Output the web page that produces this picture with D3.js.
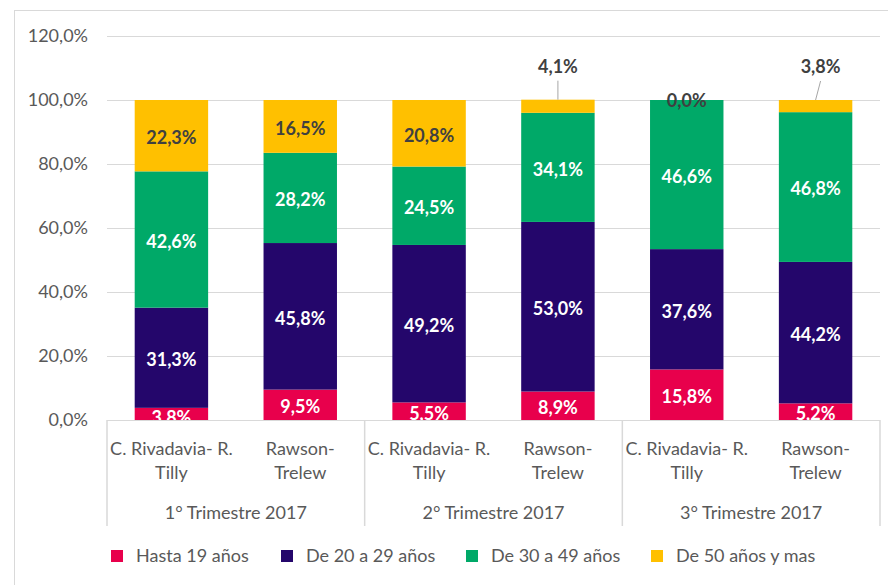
<!DOCTYPE html>
<meta charset="utf-8">
<head>
    <style>
        body { margin: 0; background: white; font-family: Lato, "Open Sans", sans-serif; }
        .grid line { stroke: #d9d9d9; }
        .grid path { stroke-width: 0; }
        .yaxis text { fill: #595959; font-size: 18px; font-family: Lato, sans-serif; }
        .cat text { fill: #595959; font-size: 18px; }
        .legend text { fill: #595959; font-size: 18px; }
    </style>
</head>
<body>
    <script src="https://cdnjs.cloudflare.com/ajax/libs/d3/7.8.5/d3.min.js"></script>
    <div id="chart"></div>
    <script>
        // data
        var groups = ["1° Trimestre 2017", "2° Trimestre 2017", "3° Trimestre 2017"];
        var places = [["C. Rivadavia- R.", "Tilly"], ["Rawson-", "Trelew"]];
        var seriesNames = ["Hasta 19 años", "De 20 a 29 años", "De 30 a 49 años", "De 50 años y mas"];
        var colors = ["#e8004c", "#24066b", "#00a968", "#ffc000"];
        var hasta19 = [3.8, 9.5, 5.5, 8.9, 15.8, 5.2];
        var de20a29 = [31.3, 45.8, 49.2, 53.0, 37.6, 44.2];
        var de30a49 = [42.6, 28.2, 24.5, 34.1, 46.6, 46.8];
        var de50 = [22.3, 16.5, 20.8, 4.1, 0.0, 3.8];
        var yTicks = [0, 20, 40, 60, 80, 100, 120];

        var width = 888, height = 585;
        var plotLeft = 107, plotRight = 880, plotTop = 36, plotBottom = 420;

        var svg = d3.select("#chart").append("svg")
            .attr("width", width)
            .attr("height", height);

        // outer border
        svg.append("rect")
            .attr("x", 14.5).attr("y", 10.5)
            .attr("width", 880).attr("height", 600)
            .attr("fill", "none").attr("stroke", "#d9d9d9");

        var keys = d3.range(6);
        var x = d3.scaleBand().domain(keys).range([plotLeft, plotRight])
            .paddingInner(0.43).paddingOuter(0.215);
        var y = d3.scaleLinear().domain([0, 120]).range([plotBottom, plotTop]);

        var loc = d3.formatLocale({ decimal: ",", thousands: ".", grouping: [3], currency: ["", ""] });
        var fmt = loc.format(".1f");

        // gridlines
        svg.append("g")
            .attr("class", "grid")
            .attr("transform", "translate(" + plotLeft + ",0)")
            .call(d3.axisLeft(y).tickValues(yTicks.slice(1)).tickSize(-(plotRight - plotLeft)).tickFormat(""));

        // y labels
        var yAxis = svg.append("g")
            .attr("class", "yaxis")
            .attr("transform", "translate(" + (plotLeft - 19) + ",0)")
            .call(d3.axisLeft(y).tickValues(yTicks).tickSize(0).tickPadding(0)
                .tickFormat(function (d) { return fmt(d) + "%"; }));
        yAxis.select(".domain").remove();

        // stacked data
        var rows = keys.map(function (i) {
            return { i: i, s0: hasta19[i], s1: de20a29[i], s2: de30a49[i], s3: de50[i] };
        });
        var stack = d3.stack().keys(["s0", "s1", "s2", "s3"])(rows);

        svg.append("defs").append("clipPath").attr("id", "plotclip")
            .append("rect").attr("x", 0).attr("y", 0).attr("width", width).attr("height", plotBottom);

        var layers = svg.selectAll("g.layer")
            .data(stack)
            .enter().append("g")
            .attr("class", "layer")
            .attr("fill", function (d, k) { return colors[k]; });

        layers.selectAll("rect")
            .data(function (d) { return d; })
            .enter().append("rect")
            .attr("x", function (d) { return x(d.data.i); })
            .attr("y", function (d) { return y(d[1]); })
            .attr("width", x.bandwidth())
            .attr("height", function (d) { return y(d[0]) - y(d[1]); });

        // data labels
        var labels = svg.append("g").attr("clip-path", "url(#plotclip)")
            .style("font-weight", "bold").style("font-size", "18px");
        stack.forEach(function (layer, k) {
            layer.forEach(function (d) {
                var v = d[1] - d[0];
                var cx = x(d.data.i) + x.bandwidth() / 2;
                var cy = (y(d[0]) + y(d[1])) / 2 + 2;
                var txt = fmt(d.data["s" + k]) + "%";
                if (k === 3 && d.data.s3 < 10 && d.data.s3 > 0) {
                    // outside label with leader line
                    var dx = d.data.i === 5 ? 5 : 0;
                    labels.append("line")
                        .attr("x1", cx).attr("y1", y(d[1]))
                        .attr("x2", cx + dx).attr("y2", y(d[1]) - 19)
                        .attr("stroke", "#a6a6a6");
                    labels.append("text")
                        .attr("x", cx + dx).attr("y", y(d[1]) - 33)
                        .attr("text-anchor", "middle").attr("dy", "0.35em")
                        .attr("fill", "#404040").text(txt);
                } else {
                    if (k === 0 && v < 5) cy += 2;
                    labels.append("text")
                        .attr("x", cx).attr("y", k === 3 && v === 0 ? cy - 1 : cy)
                        .attr("text-anchor", "middle").attr("dy", "0.35em")
                        .attr("fill", k === 3 ? "#404040" : "white")
                        .text(txt);
                }
            });
        });

        // category axis
        var cat = svg.append("g").attr("class", "cat");
        cat.append("line")
            .attr("x1", plotLeft).attr("x2", plotRight).attr("y1", plotBottom + 0.5).attr("y2", plotBottom + 0.5)
            .attr("stroke", "#d9d9d9");
        var gw = (plotRight - plotLeft) / groups.length;
        d3.range(groups.length + 1).forEach(function (g) {
            cat.append("line")
                .attr("x1", plotLeft + g * gw).attr("x2", plotLeft + g * gw)
                .attr("y1", plotBottom).attr("y2", 526)
                .attr("stroke", "#d9d9d9").attr("stroke-width", 1.5);
        });
        keys.forEach(function (i) {
            var p = places[i % 2];
            var cx = x(i) + x.bandwidth() / 2;
            cat.append("text").attr("x", cx).attr("y", 449).attr("dy", "0.35em")
                .attr("text-anchor", "middle").text(p[0]);
            cat.append("text").attr("x", cx).attr("y", 473).attr("dy", "0.35em")
                .attr("text-anchor", "middle").text(p[1]);
        });
        groups.forEach(function (g, j) {
            cat.append("text").attr("x", plotLeft + (j + 0.5) * gw).attr("y", 513).attr("dy", "0.35em")
                .attr("text-anchor", "middle").text(g);
        });

        // legend
        var legX = [111, 281, 466, 651];
        var legend = svg.append("g").attr("class", "legend");
        seriesNames.forEach(function (n, k) {
            legend.append("rect").attr("x", legX[k]).attr("y", 550)
                .attr("width", 12).attr("height", 12).attr("fill", colors[k]);
            legend.append("text").attr("x", legX[k] + 25).attr("y", 556).attr("dy", "0.35em").text(n);
        });
    </script>
</body>
